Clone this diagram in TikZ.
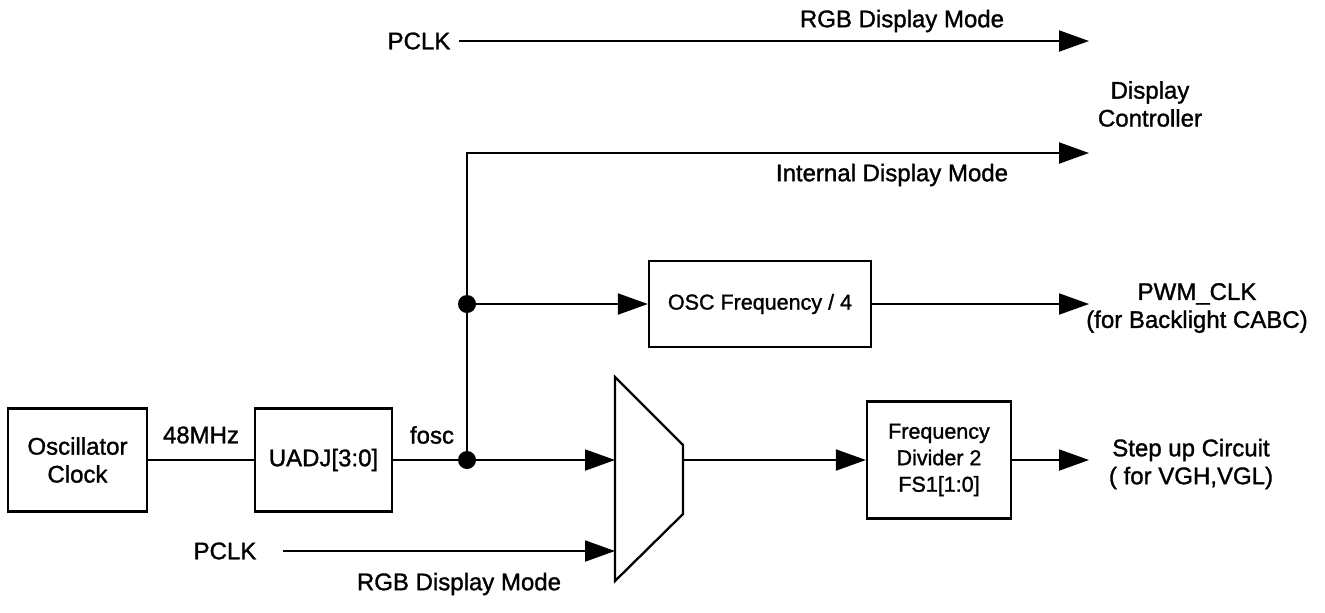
\documentclass[tikz,border=0pt]{standalone}
\usepackage{fontspec}
\setmainfont{Liberation Sans}[BoldFont=Liberation Sans, BoldFeatures={FakeBold=1.3}]
\usetikzlibrary{arrows.meta}
\newcommand{\sigfont}{\fontsize{13.66}{15.9}\selectfont\bfseries}
\newcommand{\divfont}{\fontsize{12.24}{15.1}\selectfont\bfseries}
\tikzset{
  blk/.style={draw, line width=1.3pt, inner sep=0pt, align=center},
  lbl/.style={inner sep=0pt, align=center},
  sig/.style={line width=1.1pt},
  sigarr/.style={sig, -{Triangle[length=6mm, width=4.2mm]}},
  jdot/.style={circle, fill, inner sep=0pt, minimum size=3.6mm}}

\begin{document}
\begin{tikzpicture}[x=0.2mm, y=-0.2mm, font=\sigfont]
\useasboundingbox (0,0) rectangle (1325,612);
% blocks
\node[blk, minimum width=27.8mm, minimum height=20.6mm] (osc) at (77.5,460) {Oscillator\\Clock};
\node[blk, minimum width=27.4mm, minimum height=20.6mm] (uadj) at (323.5,460) {UADJ[3:0]};
\node[blk, minimum width=44.4mm, minimum height=17.2mm, font=\divfont] (quart) at (760,304) {OSC Frequency / 4};
\node[blk, minimum width=28.8mm, minimum height=23.4mm, font=\divfont] (fdiv) at (939,460) {Frequency\\Divider 2\\FS1[1:0]};
% multiplexer
\draw[blk] (615,377) -- (683,445) -- (683,514) -- (615,581) -- cycle;
\coordinate (muxa) at (615,460);
\coordinate (muxb) at (615,551);
\coordinate (muxo) at (683,460);
% junctions
\node[jdot] (ja) at (467,460) {};
\node[jdot] (jb) at (467,304) {};
\coordinate (bend) at (467,153);
% free ends
\coordinate (pclkAs) at (459,41);
\coordinate (pclkBs) at (283,551);
\coordinate (rgbend) at (1089,41);
\coordinate (intend) at (1089,153);
\coordinate (pwmend) at (1089,304);
\coordinate (vghend) at (1089,460);
% labels
\node[lbl] (pclkA) at (419,41) {PCLK};
\node[lbl] (pclkB) at (225,551) {PCLK};
\node[lbl] (rgbA) at (902,21) {RGB Display Mode};
\node[lbl] (rgbB) at (459,584) {RGB Display Mode};
\node[lbl] (intl) at (892,175) {Internal Display Mode};
\node[lbl] (dctl) at (1150,104) {Display\\Controller};
\node[lbl] (pwm) at (1197,308) {PWM\_CLK\\(for Backlight CABC)};
\node[lbl] (stepup) at (1191,464) {Step up Circuit\\( for VGH,VGL)};
\node[lbl] (mhz) at (201,435) {48MHz};
\node[lbl] (fosc) at (432,435) {fosc};
% connectors
\draw[sig] (osc.east) -- (uadj.west);
\draw[sig] (uadj.east) -- (ja.center);
\draw[sigarr] (ja.center) -- (muxa);
\draw[sigarr] (ja.center) -- (bend) -- (intend);
\draw[sigarr] (jb.center) -- (quart.west);
\draw[sigarr] (quart.east) -- (pwmend);
\draw[sigarr] (muxo) -- (fdiv.west);
\draw[sigarr] (fdiv.east) -- (vghend);
\draw[sigarr] (pclkAs) -- (rgbend);
\draw[sigarr] (pclkBs) -- (muxb);
\end{tikzpicture}
\end{document}
